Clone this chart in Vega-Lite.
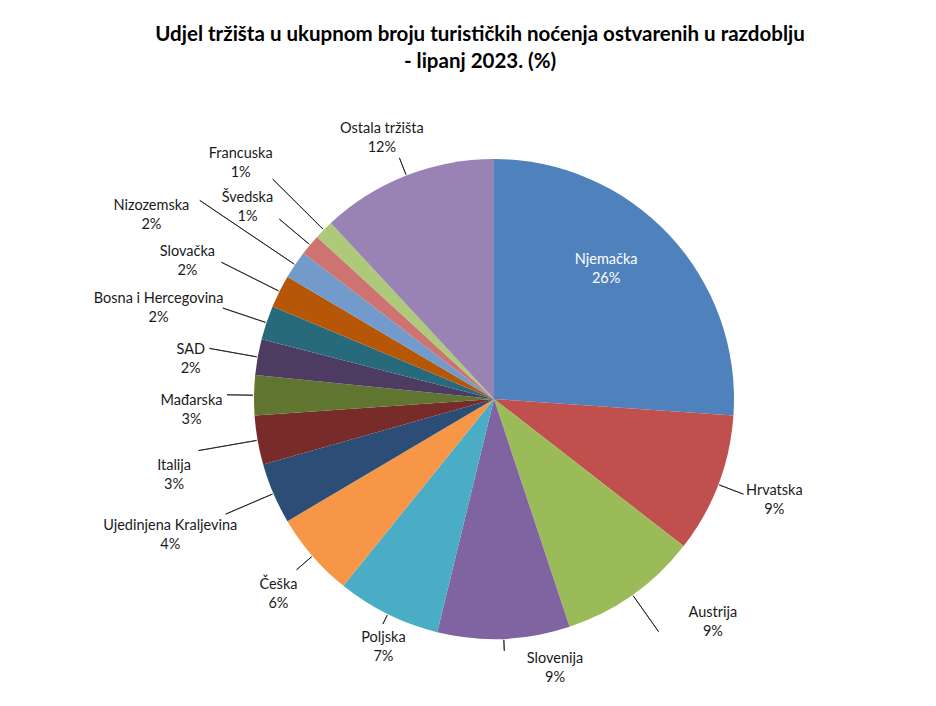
{
  "$schema": "https://vega.github.io/schema/vega-lite/v6.json",
  "width": 884,
  "height": 614,
  "autosize": {"type": "none"},
  "padding": {"left": 52, "top": 92, "right": 0, "bottom": 0},
  "background": "white",
  "config": {
    "view": {"stroke": null},
    "text": {"font": "Lato", "fontSize": 14.5, "color": "#1a1a1a", "lineBreak": "\n", "lineHeight": 19, "align": "center", "baseline": "middle"},
    "arc": {"stroke": "#1a1a1a", "strokeWidth": 0.8}
  },
  "title": {
    "text": ["Udjel tržišta u ukupnom broju turističkih noćenja ostvarenih u razdoblju", "- lipanj 2023. (%)"],
    "font": "Lato",
    "fontSize": 20.5,
    "fontWeight": "bold",
    "color": "#000000",
    "anchor": "middle",
    "lineHeight": 27,
    "offset": 20,
    "dx": -14
  },
  "data": {
    "values": [
      {"market": "Njemačka", "value": 26.1},
      {"market": "Hrvatska", "value": 9.4},
      {"market": "Austrija", "value": 9.4},
      {"market": "Slovenija", "value": 8.9},
      {"market": "Poljska", "value": 7.0},
      {"market": "Češka", "value": 5.7},
      {"market": "Ujedinjena Kraljevina", "value": 4.1},
      {"market": "Italija", "value": 3.3},
      {"market": "Mađarska", "value": 2.7},
      {"market": "SAD", "value": 2.4},
      {"market": "Bosna i Hercegovina", "value": 2.3},
      {"market": "Slovačka", "value": 2.2},
      {"market": "Nizozemska", "value": 1.9},
      {"market": "Švedska", "value": 1.4},
      {"market": "Francuska", "value": 1.3},
      {"market": "Ostala tržišta", "value": 11.9}
    ]
  },
  "transform": [
    {"window": [{"op": "row_number", "as": "idx"}]},
    {"window": [{"op": "sum", "field": "value", "as": "cum"}], "sort": [{"field": "idx"}], "frame": [null, 0]},
    {"calculate": "datum.cum - datum.value / 2", "as": "mid"},
    {"calculate": "datum.market + '\\n' + format(datum.value, '.0f') + '%'", "as": "label"}
  ],
  "layer": [
    {
      "mark": {"type": "arc", "radius": 240, "strokeWidth": 0},
      "encoding": {
        "theta": {"field": "value", "type": "quantitative", "stack": true, "scale": {"domain": [0, 100], "nice": false, "zero": true}},
        "order": {"field": "idx", "type": "quantitative"},
        "color": {
          "field": "market",
          "type": "nominal",
          "legend": null,
          "scale": {
            "domain": ["Njemačka", "Hrvatska", "Austrija", "Slovenija", "Poljska", "Češka", "Ujedinjena Kraljevina", "Italija", "Mađarska", "SAD", "Bosna i Hercegovina", "Slovačka", "Nizozemska", "Švedska", "Francuska", "Ostala tržišta"],
            "range": ["#4F81BD", "#C0504D", "#9BBB59", "#8064A2", "#4BACC6", "#F79646", "#2C4D75", "#772C2A", "#5F7530", "#4D3B62", "#276A7C", "#B65708", "#729ACA", "#CD7371", "#AFC97A", "#9983B5"]
          }
        }
      }
    },
    {
      "transform": [{"filter": {"field": "market", "equal": "Njemačka"}}],
      "encoding": {"theta": {"field": "mid", "type": "quantitative", "stack": false, "scale": {"domain": [0, 100], "nice": false, "zero": true}}},
      "layer": [
        {"mark": {"type": "text", "radius": 163, "color": "#FFFFFF", "dx": -7, "dy": -27.5}, "encoding": {"text": {"field": "label"}}}
      ]
    },
    {
      "transform": [{"filter": {"field": "market", "equal": "Hrvatska"}}],
      "encoding": {"theta": {"field": "mid", "type": "quantitative", "stack": false, "scale": {"domain": [0, 100], "nice": false, "zero": true}}},
      "layer": [
        {"mark": {"type": "text", "radius": 300, "dy": -14.5}, "encoding": {"text": {"field": "label"}}},
        {"mark": {"type": "arc", "radius": 267, "radius2": 241, "filled": false}, "encoding": {"theta2": {"field": "mid"}}}
      ]
    },
    {
      "transform": [{"filter": {"field": "market", "equal": "Austrija"}}],
      "encoding": {"theta": {"field": "mid", "type": "quantitative", "stack": false, "scale": {"domain": [0, 100], "nice": false, "zero": true}}},
      "layer": [
        {"mark": {"type": "text", "radius": 308, "dx": 41, "dy": -37}, "encoding": {"text": {"field": "label"}}},
        {"mark": {"type": "arc", "radius": 285, "radius2": 241, "filled": false}, "encoding": {"theta2": {"field": "mid"}}}
      ]
    },
    {
      "transform": [{"filter": {"field": "market", "equal": "Slovenija"}}],
      "encoding": {"theta": {"field": "mid", "type": "quantitative", "stack": false, "scale": {"domain": [0, 100], "nice": false, "zero": true}}},
      "layer": [
        {"mark": {"type": "text", "radius": 270, "dx": 50, "dy": -9.5}, "encoding": {"text": {"field": "label"}}},
        {"mark": {"type": "arc", "radius": 252, "radius2": 241, "filled": false}, "encoding": {"theta2": {"field": "mid"}}}
      ]
    },
    {
      "transform": [{"filter": {"field": "market", "equal": "Poljska"}}],
      "encoding": {"theta": {"field": "mid", "type": "quantitative", "stack": false, "scale": {"domain": [0, 100], "nice": false, "zero": true}}},
      "layer": [
        {"mark": {"type": "text", "radius": 270, "dx": 9, "dy": -3}, "encoding": {"text": {"field": "label"}}},
        {"mark": {"type": "arc", "radius": 251, "radius2": 241, "filled": false}, "encoding": {"theta2": {"field": "mid"}}}
      ]
    },
    {
      "transform": [{"filter": {"field": "market", "equal": "Češka"}}],
      "encoding": {"theta": {"field": "mid", "type": "quantitative", "stack": false, "scale": {"domain": [0, 100], "nice": false, "zero": true}}},
      "layer": [
        {"mark": {"type": "text", "radius": 285, "dy": 0}, "encoding": {"text": {"field": "label"}}},
        {"mark": {"type": "arc", "radius": 261, "radius2": 241, "filled": false}, "encoding": {"theta2": {"field": "mid"}}}
      ]
    },
    {
      "transform": [{"filter": {"field": "market", "equal": "Ujedinjena Kraljevina"}}],
      "encoding": {"theta": {"field": "mid", "type": "quantitative", "stack": false, "scale": {"domain": [0, 100], "nice": false, "zero": true}}},
      "layer": [
        {"mark": {"type": "text", "radius": 349, "dx": -3, "dy": -11}, "encoding": {"text": {"field": "label"}}},
        {"mark": {"type": "arc", "radius": 292, "radius2": 241, "filled": false}, "encoding": {"theta2": {"field": "mid"}}}
      ]
    },
    {
      "transform": [{"filter": {"field": "market", "equal": "Italija"}}],
      "encoding": {"theta": {"field": "mid", "type": "quantitative", "stack": false, "scale": {"domain": [0, 100], "nice": false, "zero": true}}},
      "layer": [
        {"mark": {"type": "text", "radius": 343, "dx": 18, "dy": 7.8}, "encoding": {"text": {"field": "label"}}},
        {"mark": {"type": "arc", "radius": 300, "radius2": 241, "filled": false}, "encoding": {"theta2": {"field": "mid"}}}
      ]
    },
    {
      "transform": [{"filter": {"field": "market", "equal": "Mađarska"}}],
      "encoding": {"theta": {"field": "mid", "type": "quantitative", "stack": false, "scale": {"domain": [0, 100], "nice": false, "zero": true}}},
      "layer": [
        {"mark": {"type": "text", "radius": 300, "dx": -2.5, "dy": 6.8}, "encoding": {"text": {"field": "label"}}},
        {"mark": {"type": "arc", "radius": 267, "radius2": 241, "filled": false}, "encoding": {"theta2": {"field": "mid"}}}
      ]
    },
    {
      "transform": [{"filter": {"field": "market", "equal": "SAD"}}],
      "encoding": {"theta": {"field": "mid", "type": "quantitative", "stack": false, "scale": {"domain": [0, 100], "nice": false, "zero": true}}},
      "layer": [
        {"mark": {"type": "text", "radius": 306, "dx": -2, "dy": 4.2}, "encoding": {"text": {"field": "label"}}},
        {"mark": {"type": "arc", "radius": 289, "radius2": 241, "filled": false}, "encoding": {"theta2": {"field": "mid"}}}
      ]
    },
    {
      "transform": [{"filter": {"field": "market", "equal": "Bosna i Hercegovina"}}],
      "encoding": {"theta": {"field": "mid", "type": "quantitative", "stack": false, "scale": {"domain": [0, 100], "nice": false, "zero": true}}},
      "layer": [
        {"mark": {"type": "text", "radius": 349, "dx": -4.5, "dy": 11.2}, "encoding": {"text": {"field": "label"}}},
        {"mark": {"type": "arc", "radius": 286, "radius2": 241, "filled": false}, "encoding": {"theta2": {"field": "mid"}}}
      ]
    },
    {
      "transform": [{"filter": {"field": "market", "equal": "Slovačka"}}],
      "encoding": {"theta": {"field": "mid", "type": "quantitative", "stack": false, "scale": {"domain": [0, 100], "nice": false, "zero": true}}},
      "layer": [
        {"mark": {"type": "text", "radius": 343, "dy": 7.2}, "encoding": {"text": {"field": "label"}}},
        {"mark": {"type": "arc", "radius": 305, "radius2": 241, "filled": false}, "encoding": {"theta2": {"field": "mid"}}}
      ]
    },
    {
      "transform": [{"filter": {"field": "market", "equal": "Nizozemska"}}],
      "encoding": {"theta": {"field": "mid", "type": "quantitative", "stack": false, "scale": {"domain": [0, 100], "nice": false, "zero": true}}},
      "layer": [
        {"mark": {"type": "text", "radius": 388, "dx": -21, "dy": 24.5}, "encoding": {"text": {"field": "label"}}},
        {"mark": {"type": "arc", "radius": 355, "radius2": 241, "filled": false}, "encoding": {"theta2": {"field": "mid"}}}
      ]
    },
    {
      "transform": [{"filter": {"field": "market", "equal": "Švedska"}}],
      "encoding": {"theta": {"field": "mid", "type": "quantitative", "stack": false, "scale": {"domain": [0, 100], "nice": false, "zero": true}}},
      "layer": [
        {"mark": {"type": "text", "radius": 319, "dx": -2, "dy": 3.5}, "encoding": {"text": {"field": "label"}}},
        {"mark": {"type": "arc", "radius": 280, "radius2": 241, "filled": false}, "encoding": {"theta2": {"field": "mid"}}}
      ]
    },
    {
      "transform": [{"filter": {"field": "market", "equal": "Francuska"}}],
      "encoding": {"theta": {"field": "mid", "type": "quantitative", "stack": false, "scale": {"domain": [0, 100], "nice": false, "zero": true}}},
      "layer": [
        {"mark": {"type": "text", "radius": 343, "dx": -10, "dy": -3.5}, "encoding": {"text": {"field": "label"}}},
        {"mark": {"type": "arc", "radius": 312, "radius2": 241, "filled": false}, "encoding": {"theta2": {"field": "mid"}}}
      ]
    },
    {
      "transform": [{"filter": {"field": "market", "equal": "Ostala tržišta"}}],
      "encoding": {"theta": {"field": "mid", "type": "quantitative", "stack": false, "scale": {"domain": [0, 100], "nice": false, "zero": true}}},
      "layer": [
        {"mark": {"type": "text", "radius": 285, "dx": -8, "dy": -4.8}, "encoding": {"text": {"field": "label"}}},
        {"mark": {"type": "arc", "radius": 259, "radius2": 241, "filled": false}, "encoding": {"theta2": {"field": "mid"}}}
      ]
    }
  ]
}
